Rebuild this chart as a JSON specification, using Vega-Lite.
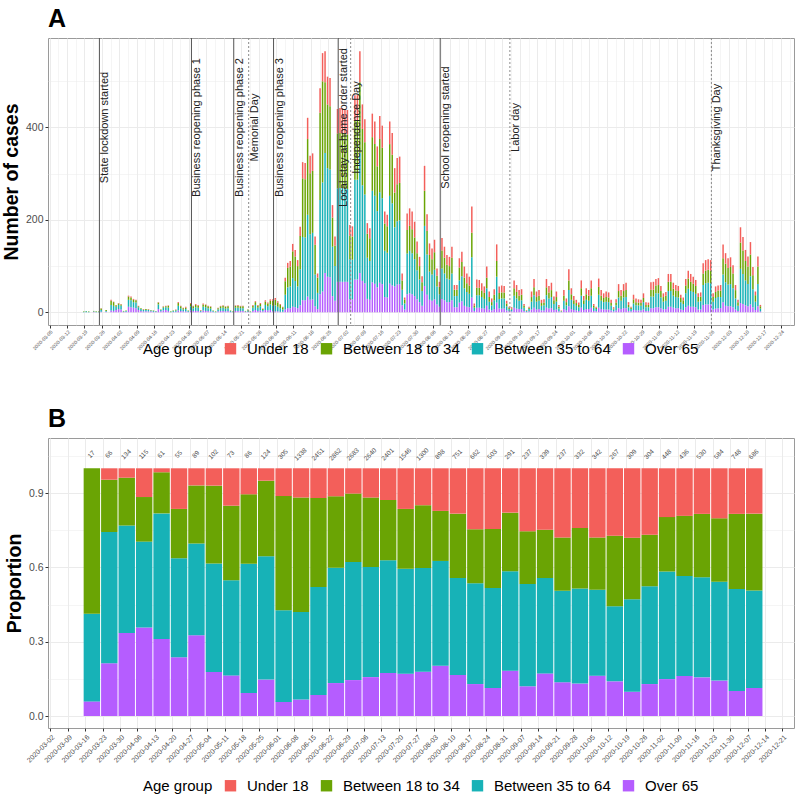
{
"$schema":"https://vega.github.io/schema/vega-lite/v6.json",
"background":"white",
"padding":{"left":0,"top":6,"right":5,"bottom":2},
"config":{
 "font":"Liberation Sans",
 "view":{"stroke":"#9a9a9a","strokeWidth":1},
 "axis":{"domain":false,"tickColor":"#333333","tickSize":3,"labelPadding":2,"labelColor":"#4d4d4d","gridColor":"#ebebeb","titleColor":"black","titleFontWeight":"bold","titleFontSize":19.5,"labelFont":"Liberation Sans","titleFont":"Liberation Sans","labelBound":false,"labelFlush":false},
 "legend":{"orient":"none","direction":"horizontal","titleOrient":"left","titleFontSize":15,"titleFontWeight":"normal","titleColor":"black","labelFontSize":15,"labelColor":"black","symbolType":"square","symbolSize":130,"symbolStrokeWidth":0,"labelOffset":9,"columnPadding":10,"titlePadding":10},
 "title":{"anchor":"start","frame":"group","fontSize":25,"fontWeight":"bold","color":"black","offset":6}
},
"datasets":{
"events":[
{"d":"2020/03/25","t":"State lockdown started","k":"p"},
{"d":"2020/05/01","t":"Business reopening phase 1","k":"p"},
{"d":"2020/05/18","t":"Business reopening phase 2","k":"p"},
{"d":"2020/05/24","t":"Memorial Day","k":"h"},
{"d":"2020/06/03","t":"Business reopening phase 3","k":"p"},
{"d":"2020/06/29","t":"Local stay-at-home order started","k":"p"},
{"d":"2020/07/04","t":"Independence Day","k":"h"},
{"d":"2020/08/09","t":"School reopening started","k":"p"},
{"d":"2020/09/06","t":"Labor day","k":"h"},
{"d":"2020/11/26","t":"Thanksgiving Day","k":"h"}
],
"weekly":[
{"w":"2020/03/15","cnt":17,"g1":0.059,"g2":0.354,"g3":0.587,"g4":0},
{"w":"2020/03/22","cnt":66,"g1":0.213,"g2":0.530,"g3":0.211,"g4":0.046},
{"w":"2020/03/29","cnt":134,"g1":0.335,"g2":0.434,"g3":0.193,"g4":0.038},
{"w":"2020/04/05","cnt":115,"g1":0.357,"g2":0.347,"g3":0.180,"g4":0.116},
{"w":"2020/04/12","cnt":61,"g1":0.311,"g2":0.507,"g3":0.166,"g4":0.016},
{"w":"2020/04/19","cnt":55,"g1":0.237,"g2":0.400,"g3":0.199,"g4":0.164},
{"w":"2020/04/26","cnt":89,"g1":0.326,"g2":0.370,"g3":0.235,"g4":0.069},
{"w":"2020/05/03","cnt":102,"g1":0.178,"g2":0.438,"g3":0.314,"g4":0.070},
{"w":"2020/05/10","cnt":73,"g1":0.164,"g2":0.384,"g3":0.301,"g4":0.151},
{"w":"2020/05/17","cnt":86,"g1":0.093,"g2":0.522,"g3":0.280,"g4":0.105},
{"w":"2020/05/24","cnt":124,"g1":0.147,"g2":0.498,"g3":0.305,"g4":0.050},
{"w":"2020/05/31","cnt":305,"g1":0.057,"g2":0.370,"g3":0.461,"g4":0.112},
{"w":"2020/06/07","cnt":1338,"g1":0.067,"g2":0.353,"g3":0.462,"g4":0.118},
{"w":"2020/06/14","cnt":2451,"g1":0.085,"g2":0.436,"g3":0.359,"g4":0.120},
{"w":"2020/06/21","cnt":2862,"g1":0.133,"g2":0.466,"g3":0.288,"g4":0.113},
{"w":"2020/06/28","cnt":2683,"g1":0.145,"g2":0.477,"g3":0.276,"g4":0.102},
{"w":"2020/07/05","cnt":2640,"g1":0.157,"g2":0.445,"g3":0.280,"g4":0.118},
{"w":"2020/07/12","cnt":2401,"g1":0.174,"g2":0.455,"g3":0.243,"g4":0.128},
{"w":"2020/07/19","cnt":1546,"g1":0.171,"g2":0.423,"g3":0.242,"g4":0.164},
{"w":"2020/07/26","cnt":1300,"g1":0.179,"g2":0.419,"g3":0.253,"g4":0.149},
{"w":"2020/08/02","cnt":898,"g1":0.203,"g2":0.423,"g3":0.202,"g4":0.172},
{"w":"2020/08/09","cnt":751,"g1":0.166,"g2":0.391,"g3":0.260,"g4":0.183},
{"w":"2020/08/16","cnt":662,"g1":0.129,"g2":0.407,"g3":0.218,"g4":0.246},
{"w":"2020/08/23","cnt":503,"g1":0.113,"g2":0.404,"g3":0.238,"g4":0.245},
{"w":"2020/08/30","cnt":291,"g1":0.183,"g2":0.401,"g3":0.237,"g4":0.179},
{"w":"2020/09/06","cnt":237,"g1":0.120,"g2":0.413,"g3":0.213,"g4":0.254},
{"w":"2020/09/13","cnt":339,"g1":0.172,"g2":0.385,"g3":0.195,"g4":0.248},
{"w":"2020/09/20","cnt":237,"g1":0.136,"g2":0.370,"g3":0.215,"g4":0.279},
{"w":"2020/09/27","cnt":332,"g1":0.131,"g2":0.384,"g3":0.244,"g4":0.241},
{"w":"2020/10/04","cnt":342,"g1":0.163,"g2":0.347,"g3":0.211,"g4":0.279},
{"w":"2020/10/11","cnt":267,"g1":0.140,"g2":0.303,"g3":0.285,"g4":0.272},
{"w":"2020/10/18","cnt":309,"g1":0.098,"g2":0.373,"g3":0.249,"g4":0.280},
{"w":"2020/10/25","cnt":304,"g1":0.129,"g2":0.395,"g3":0.208,"g4":0.268},
{"w":"2020/11/01","cnt":448,"g1":0.149,"g2":0.434,"g3":0.220,"g4":0.197},
{"w":"2020/11/08","cnt":436,"g1":0.162,"g2":0.403,"g3":0.243,"g4":0.192},
{"w":"2020/11/15","cnt":530,"g1":0.156,"g2":0.404,"g3":0.256,"g4":0.184},
{"w":"2020/11/22","cnt":584,"g1":0.143,"g2":0.399,"g3":0.256,"g4":0.202},
{"w":"2020/11/29","cnt":748,"g1":0.101,"g2":0.412,"g3":0.303,"g4":0.184},
{"w":"2020/12/06","cnt":686,"g1":0.113,"g2":0.394,"g3":0.310,"g4":0.183}
],
"daily":[
{"d":"2020/03/18","g1":0,"g2":1,"g3":1,"g4":0},
{"d":"2020/03/19","g1":0,"g2":2,"g3":1,"g4":0},
{"d":"2020/03/20","g1":0,"g2":1,"g3":1,"g4":0},
{"d":"2020/03/22","g1":1,"g2":1,"g3":1,"g4":0},
{"d":"2020/03/23","g1":0,"g2":1,"g3":1,"g4":0},
{"d":"2020/03/24","g1":0,"g2":1,"g3":1,"g4":0},
{"d":"2020/03/25","g1":1,"g2":4,"g3":3,"g4":1},
{"d":"2020/03/27","g1":1,"g2":2,"g3":2,"g4":0},
{"d":"2020/03/29","g1":4,"g2":12,"g3":9,"g4":2},
{"d":"2020/03/30","g1":3,"g2":11,"g3":8,"g4":1},
{"d":"2020/03/31","g1":5,"g2":7,"g3":3,"g4":1},
{"d":"2020/04/01","g1":7,"g2":9,"g3":3,"g4":1},
{"d":"2020/04/02","g1":6,"g2":8,"g3":3,"g4":1},
{"d":"2020/04/03","g1":1,"g2":1,"g3":1,"g4":0},
{"d":"2020/04/04","g1":1,"g2":2,"g3":1,"g4":0},
{"d":"2020/04/05","g1":12,"g2":15,"g3":7,"g4":2},
{"d":"2020/04/06","g1":11,"g2":15,"g3":6,"g4":2},
{"d":"2020/04/07","g1":10,"g2":12,"g3":5,"g4":2},
{"d":"2020/04/08","g1":9,"g2":12,"g3":5,"g4":1},
{"d":"2020/04/09","g1":5,"g2":6,"g3":2,"g4":1},
{"d":"2020/04/10","g1":3,"g2":4,"g3":2,"g4":0},
{"d":"2020/04/11","g1":2,"g2":3,"g3":1,"g4":1},
{"d":"2020/04/12","g1":2,"g2":3,"g3":2,"g4":0},
{"d":"2020/04/13","g1":2,"g2":3,"g3":1,"g4":1},
{"d":"2020/04/14","g1":2,"g2":2,"g3":1,"g4":0},
{"d":"2020/04/15","g1":1,"g2":2,"g3":1,"g4":0},
{"d":"2020/04/16","g1":1,"g2":1,"g3":1,"g4":0},
{"d":"2020/04/17","g1":7,"g2":10,"g3":4,"g4":1},
{"d":"2020/04/18","g1":2,"g2":3,"g3":1,"g4":0},
{"d":"2020/04/19","g1":4,"g2":6,"g3":2,"g4":1},
{"d":"2020/04/20","g1":5,"g2":6,"g3":2,"g4":1},
{"d":"2020/04/21","g1":3,"g2":7,"g3":4,"g4":1},
{"d":"2020/04/22","g1":0,"g2":1,"g3":1,"g4":0},
{"d":"2020/04/23","g1":1,"g2":2,"g3":1,"g4":0},
{"d":"2020/04/24","g1":1,"g2":3,"g3":1,"g4":1},
{"d":"2020/04/25","g1":4,"g2":10,"g3":6,"g4":2},
{"d":"2020/04/26","g1":3,"g2":6,"g3":4,"g4":1},
{"d":"2020/04/27","g1":2,"g2":4,"g3":3,"g4":1},
{"d":"2020/04/28","g1":2,"g2":5,"g3":3,"g4":2},
{"d":"2020/04/29","g1":1,"g2":2,"g3":1,"g4":0},
{"d":"2020/04/30","g1":4,"g2":9,"g3":5,"g4":2},
{"d":"2020/05/01","g1":3,"g2":6,"g3":4,"g4":1},
{"d":"2020/05/02","g1":3,"g2":8,"g3":5,"g4":2},
{"d":"2020/05/03","g1":3,"g2":7,"g3":4,"g4":2},
{"d":"2020/05/04","g1":1,"g2":2,"g3":1,"g4":1},
{"d":"2020/05/05","g1":4,"g2":8,"g3":5,"g4":2},
{"d":"2020/05/06","g1":3,"g2":8,"g3":5,"g4":1},
{"d":"2020/05/07","g1":3,"g2":6,"g3":4,"g4":1},
{"d":"2020/05/08","g1":2,"g2":6,"g3":4,"g4":1},
{"d":"2020/05/09","g1":1,"g2":2,"g3":1,"g4":0},
{"d":"2020/05/10","g1":0,"g2":1,"g3":1,"g4":0},
{"d":"2020/05/11","g1":2,"g2":4,"g3":3,"g4":1},
{"d":"2020/05/12","g1":3,"g2":6,"g3":4,"g4":1},
{"d":"2020/05/13","g1":3,"g2":7,"g3":4,"g4":1},
{"d":"2020/05/14","g1":2,"g2":6,"g3":4,"g4":1},
{"d":"2020/05/15","g1":3,"g2":6,"g3":4,"g4":1},
{"d":"2020/05/16","g1":1,"g2":2,"g3":1,"g4":0},
{"d":"2020/05/17","g1":0,"g2":1,"g3":1,"g4":0},
{"d":"2020/05/18","g1":3,"g2":7,"g3":4,"g4":1},
{"d":"2020/05/19","g1":3,"g2":7,"g3":4,"g4":2},
{"d":"2020/05/20","g1":3,"g2":6,"g3":4,"g4":1},
{"d":"2020/05/21","g1":3,"g2":6,"g3":4,"g4":1},
{"d":"2020/05/22","g1":1,"g2":1,"g3":1,"g4":0},
{"d":"2020/05/23","g1":1,"g2":3,"g3":2,"g4":0},
{"d":"2020/05/24","g1":0,"g2":1,"g3":1,"g4":0},
{"d":"2020/05/25","g1":3,"g2":7,"g3":4,"g4":2},
{"d":"2020/05/26","g1":5,"g2":11,"g3":6,"g4":2},
{"d":"2020/05/27","g1":3,"g2":7,"g3":4,"g4":2},
{"d":"2020/05/28","g1":4,"g2":9,"g3":5,"g4":2},
{"d":"2020/05/29","g1":2,"g2":3,"g3":2,"g4":1},
{"d":"2020/05/30","g1":5,"g2":11,"g3":7,"g4":3},
{"d":"2020/05/31","g1":4,"g2":9,"g3":6,"g4":2},
{"d":"2020/06/01","g1":5,"g2":12,"g3":8,"g4":3},
{"d":"2020/06/02","g1":2,"g2":12,"g3":11,"g4":3},
{"d":"2020/06/03","g1":2,"g2":13,"g3":12,"g4":4},
{"d":"2020/06/04","g1":2,"g2":10,"g3":9,"g4":3},
{"d":"2020/06/05","g1":1,"g2":8,"g3":7,"g4":2},
{"d":"2020/06/06","g1":1,"g2":5,"g3":5,"g4":1},
{"d":"2020/06/07","g1":6,"g2":32,"g3":29,"g4":8},
{"d":"2020/06/08","g1":9,"g2":45,"g3":42,"g4":11},
{"d":"2020/06/09","g1":9,"g2":47,"g3":43,"g4":12},
{"d":"2020/06/10","g1":12,"g2":62,"g3":58,"g4":16},
{"d":"2020/06/11","g1":11,"g2":57,"g3":53,"g4":14},
{"d":"2020/06/12","g1":9,"g2":47,"g3":44,"g4":13},
{"d":"2020/06/13","g1":15,"g2":78,"g3":72,"g4":20},
{"d":"2020/06/14","g1":26,"g2":137,"g3":127,"g4":35},
{"d":"2020/06/15","g1":26,"g2":136,"g3":126,"g4":35},
{"d":"2020/06/16","g1":34,"g2":177,"g3":164,"g4":46},
{"d":"2020/06/17","g1":27,"g2":142,"g3":132,"g4":38},
{"d":"2020/06/18","g1":28,"g2":144,"g3":134,"g4":38},
{"d":"2020/06/19","g1":13,"g2":69,"g3":64,"g4":18},
{"d":"2020/06/20","g1":7,"g2":35,"g3":33,"g4":9},
{"d":"2020/06/21","g1":39,"g2":204,"g3":189,"g4":53},
{"d":"2020/06/22","g1":45,"g2":236,"g3":219,"g4":61},
{"d":"2020/06/23","g1":85,"g2":260,"g3":153,"g4":67},
{"d":"2020/06/24","g1":77,"g2":235,"g3":138,"g4":60},
{"d":"2020/06/25","g1":76,"g2":233,"g3":137,"g4":61},
{"d":"2020/06/26","g1":35,"g2":107,"g3":63,"g4":27},
{"d":"2020/06/27","g1":25,"g2":75,"g3":44,"g4":20},
{"d":"2020/06/28","g1":66,"g2":202,"g3":119,"g4":53},
{"d":"2020/06/29","g1":66,"g2":203,"g3":119,"g4":54},
{"d":"2020/06/30","g1":66,"g2":203,"g3":119,"g4":54},
{"d":"2020/07/01","g1":66,"g2":202,"g3":119,"g4":53},
{"d":"2020/07/02","g1":66,"g2":201,"g3":118,"g4":53},
{"d":"2020/07/03","g1":28,"g2":87,"g3":51,"g4":23},
{"d":"2020/07/04","g1":28,"g2":86,"g3":50,"g4":22},
{"d":"2020/07/05","g1":71,"g2":216,"g3":127,"g4":56},
{"d":"2020/07/06","g1":71,"g2":216,"g3":127,"g4":56},
{"d":"2020/07/07","g1":85,"g2":260,"g3":153,"g4":67},
{"d":"2020/07/08","g1":68,"g2":207,"g3":122,"g4":53},
{"d":"2020/07/09","g1":63,"g2":192,"g3":113,"g4":50},
{"d":"2020/07/10","g1":29,"g2":89,"g3":52,"g4":23},
{"d":"2020/07/11","g1":27,"g2":84,"g3":49,"g4":22},
{"d":"2020/07/12","g1":65,"g2":198,"g3":116,"g4":51},
{"d":"2020/07/13","g1":62,"g2":190,"g3":112,"g4":49},
{"d":"2020/07/14","g1":54,"g2":165,"g3":97,"g4":43},
{"d":"2020/07/15","g1":64,"g2":196,"g3":115,"g4":50},
{"d":"2020/07/16","g1":61,"g2":186,"g3":109,"g4":48},
{"d":"2020/07/17","g1":33,"g2":100,"g3":59,"g4":26},
{"d":"2020/07/18","g1":32,"g2":97,"g3":57,"g4":25},
{"d":"2020/07/19","g1":62,"g2":190,"g3":112,"g4":49},
{"d":"2020/07/20","g1":58,"g2":178,"g3":105,"g4":47},
{"d":"2020/07/21","g1":56,"g2":128,"g3":75,"g4":53},
{"d":"2020/07/22","g1":60,"g2":137,"g3":80,"g4":57},
{"d":"2020/07/23","g1":61,"g2":138,"g3":81,"g4":57},
{"d":"2020/07/24","g1":15,"g2":34,"g3":20,"g4":15},
{"d":"2020/07/25","g1":6,"g2":13,"g3":8,"g4":5},
{"d":"2020/07/26","g1":39,"g2":88,"g3":51,"g4":36},
{"d":"2020/07/27","g1":41,"g2":92,"g3":54,"g4":38},
{"d":"2020/07/28","g1":39,"g2":89,"g3":52,"g4":38},
{"d":"2020/07/29","g1":35,"g2":80,"g3":47,"g4":34},
{"d":"2020/07/30","g1":28,"g2":63,"g3":37,"g4":25},
{"d":"2020/07/31","g1":22,"g2":49,"g3":29,"g4":20},
{"d":"2020/08/01","g1":14,"g2":32,"g3":19,"g4":13},
{"d":"2020/08/02","g1":57,"g2":130,"g3":76,"g4":54},
{"d":"2020/08/03","g1":38,"g2":87,"g3":51,"g4":36},
{"d":"2020/08/04","g1":27,"g2":61,"g3":36,"g4":25},
{"d":"2020/08/05","g1":25,"g2":57,"g3":33,"g4":23},
{"d":"2020/08/06","g1":28,"g2":64,"g3":38,"g4":27},
{"d":"2020/08/07","g1":17,"g2":39,"g3":23,"g4":16},
{"d":"2020/08/08","g1":12,"g2":27,"g3":16,"g4":11},
{"d":"2020/08/09","g1":29,"g2":66,"g3":39,"g4":27},
{"d":"2020/08/10","g1":26,"g2":58,"g3":34,"g4":24},
{"d":"2020/08/11","g1":22,"g2":51,"g3":30,"g4":21},
{"d":"2020/08/12","g1":22,"g2":49,"g3":29,"g4":20},
{"d":"2020/08/13","g1":26,"g2":58,"g3":34,"g4":24},
{"d":"2020/08/14","g1":11,"g2":24,"g3":14,"g4":10},
{"d":"2020/08/15","g1":11,"g2":24,"g3":14,"g4":10},
{"d":"2020/08/16","g1":21,"g2":48,"g3":28,"g4":20},
{"d":"2020/08/17","g1":24,"g2":54,"g3":31,"g4":22},
{"d":"2020/08/18","g1":14,"g2":38,"g3":23,"g4":24},
{"d":"2020/08/19","g1":12,"g2":32,"g3":19,"g4":21},
{"d":"2020/08/20","g1":11,"g2":29,"g3":18,"g4":19},
{"d":"2020/08/21","g1":32,"g2":87,"g3":53,"g4":57},
{"d":"2020/08/22","g1":3,"g2":7,"g3":4,"g4":5},
{"d":"2020/08/23","g1":10,"g2":27,"g3":16,"g4":18},
{"d":"2020/08/24","g1":10,"g2":27,"g3":16,"g4":17},
{"d":"2020/08/25","g1":9,"g2":24,"g3":14,"g4":16},
{"d":"2020/08/26","g1":8,"g2":21,"g3":13,"g4":14},
{"d":"2020/08/27","g1":14,"g2":38,"g3":23,"g4":24},
{"d":"2020/08/28","g1":6,"g2":17,"g3":10,"g4":12},
{"d":"2020/08/29","g1":4,"g2":11,"g3":7,"g4":8},
{"d":"2020/08/30","g1":7,"g2":19,"g3":12,"g4":12},
{"d":"2020/08/31","g1":21,"g2":56,"g3":34,"g4":36},
{"d":"2020/09/01","g1":8,"g2":21,"g3":13,"g4":14},
{"d":"2020/09/02","g1":8,"g2":22,"g3":13,"g4":15},
{"d":"2020/09/03","g1":8,"g2":22,"g3":13,"g4":14},
{"d":"2020/09/04","g1":4,"g2":9,"g3":6,"g4":6},
{"d":"2020/09/05","g1":2,"g2":5,"g3":3,"g4":2},
{"d":"2020/09/06","g1":2,"g2":4,"g3":2,"g4":3},
{"d":"2020/09/07","g1":10,"g2":26,"g3":16,"g4":17},
{"d":"2020/09/08","g1":8,"g2":22,"g3":14,"g4":15},
{"d":"2020/09/09","g1":7,"g2":18,"g3":11,"g4":12},
{"d":"2020/09/10","g1":7,"g2":19,"g3":12,"g4":12},
{"d":"2020/09/11","g1":3,"g2":7,"g3":4,"g4":4},
{"d":"2020/09/12","g1":1,"g2":2,"g3":1,"g4":1},
{"d":"2020/09/13","g1":2,"g2":5,"g3":3,"g4":2},
{"d":"2020/09/14","g1":6,"g2":17,"g3":10,"g4":12},
{"d":"2020/09/15","g1":10,"g2":27,"g3":17,"g4":18},
{"d":"2020/09/16","g1":6,"g2":17,"g3":10,"g4":12},
{"d":"2020/09/17","g1":7,"g2":18,"g3":11,"g4":12},
{"d":"2020/09/18","g1":4,"g2":10,"g3":6,"g4":7},
{"d":"2020/09/19","g1":4,"g2":11,"g3":6,"g4":7},
{"d":"2020/09/20","g1":10,"g2":27,"g3":17,"g4":18},
{"d":"2020/09/21","g1":8,"g2":22,"g3":13,"g4":14},
{"d":"2020/09/22","g1":9,"g2":24,"g3":15,"g4":16},
{"d":"2020/09/23","g1":5,"g2":13,"g3":8,"g4":8},
{"d":"2020/09/24","g1":6,"g2":17,"g3":10,"g4":12},
{"d":"2020/09/25","g1":2,"g2":6,"g3":4,"g4":4},
{"d":"2020/09/26","g1":1,"g2":1,"g3":1,"g4":1},
{"d":"2020/09/27","g1":7,"g2":18,"g3":11,"g4":12},
{"d":"2020/09/28","g1":4,"g2":11,"g3":7,"g4":8},
{"d":"2020/09/29","g1":13,"g2":35,"g3":21,"g4":24},
{"d":"2020/09/30","g1":7,"g2":20,"g3":12,"g4":13},
{"d":"2020/10/01","g1":5,"g2":13,"g3":8,"g4":9},
{"d":"2020/10/02","g1":4,"g2":10,"g3":6,"g4":7},
{"d":"2020/10/03","g1":3,"g2":8,"g3":5,"g4":5},
{"d":"2020/10/04","g1":10,"g2":26,"g3":16,"g4":17},
{"d":"2020/10/05","g1":5,"g2":13,"g3":8,"g4":9},
{"d":"2020/10/06","g1":7,"g2":20,"g3":12,"g4":13},
{"d":"2020/10/07","g1":7,"g2":18,"g3":11,"g4":12},
{"d":"2020/10/08","g1":10,"g2":26,"g3":16,"g4":17},
{"d":"2020/10/09","g1":3,"g2":7,"g3":4,"g4":4},
{"d":"2020/10/10","g1":2,"g2":5,"g3":3,"g4":2},
{"d":"2020/10/11","g1":10,"g2":28,"g3":17,"g4":18},
{"d":"2020/10/12","g1":7,"g2":18,"g3":11,"g4":12},
{"d":"2020/10/13","g1":6,"g2":16,"g3":9,"g4":10},
{"d":"2020/10/14","g1":6,"g2":17,"g3":10,"g4":12},
{"d":"2020/10/15","g1":6,"g2":16,"g3":10,"g4":11},
{"d":"2020/10/16","g1":4,"g2":10,"g3":6,"g4":7},
{"d":"2020/10/17","g1":2,"g2":4,"g3":2,"g4":3},
{"d":"2020/10/18","g1":4,"g2":11,"g3":6,"g4":7},
{"d":"2020/10/19","g1":9,"g2":23,"g3":14,"g4":15},
{"d":"2020/10/20","g1":7,"g2":18,"g3":11,"g4":12},
{"d":"2020/10/21","g1":9,"g2":23,"g3":14,"g4":15},
{"d":"2020/10/22","g1":9,"g2":24,"g3":15,"g4":16},
{"d":"2020/10/23","g1":3,"g2":8,"g3":5,"g4":6},
{"d":"2020/10/24","g1":2,"g2":5,"g3":3,"g4":2},
{"d":"2020/10/25","g1":5,"g2":14,"g3":9,"g4":10},
{"d":"2020/10/26","g1":4,"g2":11,"g3":7,"g4":8},
{"d":"2020/10/27","g1":4,"g2":11,"g3":6,"g4":7},
{"d":"2020/10/28","g1":4,"g2":10,"g3":6,"g4":7},
{"d":"2020/10/29","g1":6,"g2":16,"g3":9,"g4":10},
{"d":"2020/10/30","g1":3,"g2":8,"g3":5,"g4":6},
{"d":"2020/10/31","g1":3,"g2":8,"g3":5,"g4":5},
{"d":"2020/11/01","g1":9,"g2":25,"g3":15,"g4":16},
{"d":"2020/11/02","g1":9,"g2":25,"g3":15,"g4":17},
{"d":"2020/11/03","g1":11,"g2":30,"g3":17,"g4":14},
{"d":"2020/11/04","g1":11,"g2":30,"g3":18,"g4":15},
{"d":"2020/11/05","g1":9,"g2":23,"g3":14,"g4":11},
{"d":"2020/11/06","g1":6,"g2":17,"g3":10,"g4":8},
{"d":"2020/11/07","g1":7,"g2":18,"g3":11,"g4":8},
{"d":"2020/11/08","g1":12,"g2":34,"g3":20,"g4":17},
{"d":"2020/11/09","g1":12,"g2":34,"g3":20,"g4":17},
{"d":"2020/11/10","g1":10,"g2":26,"g3":15,"g4":13},
{"d":"2020/11/11","g1":9,"g2":24,"g3":14,"g4":12},
{"d":"2020/11/12","g1":9,"g2":23,"g3":14,"g4":11},
{"d":"2020/11/13","g1":6,"g2":16,"g3":9,"g4":7},
{"d":"2020/11/14","g1":5,"g2":13,"g3":8,"g4":6},
{"d":"2020/11/15","g1":11,"g2":30,"g3":17,"g4":14},
{"d":"2020/11/16","g1":14,"g2":37,"g3":22,"g4":17},
{"d":"2020/11/17","g1":12,"g2":34,"g3":20,"g4":17},
{"d":"2020/11/18","g1":12,"g2":32,"g3":18,"g4":15},
{"d":"2020/11/19","g1":11,"g2":29,"g3":17,"g4":13},
{"d":"2020/11/20","g1":6,"g2":17,"g3":10,"g4":8},
{"d":"2020/11/21","g1":6,"g2":18,"g3":10,"g4":9},
{"d":"2020/11/22","g1":16,"g2":43,"g3":25,"g4":22},
{"d":"2020/11/23","g1":17,"g2":46,"g3":27,"g4":23},
{"d":"2020/11/24","g1":17,"g2":47,"g3":28,"g4":23},
{"d":"2020/11/25","g1":17,"g2":46,"g3":27,"g4":23},
{"d":"2020/11/26","g1":6,"g2":17,"g3":10,"g4":8},
{"d":"2020/11/27","g1":8,"g2":23,"g3":13,"g4":12},
{"d":"2020/11/28","g1":9,"g2":24,"g3":14,"g4":11},
{"d":"2020/11/29","g1":9,"g2":24,"g3":14,"g4":12},
{"d":"2020/11/30","g1":22,"g2":60,"g3":35,"g4":30},
{"d":"2020/12/01","g1":14,"g2":51,"g3":40,"g4":23},
{"d":"2020/12/02","g1":13,"g2":47,"g3":36,"g4":21},
{"d":"2020/12/03","g1":13,"g2":48,"g3":37,"g4":21},
{"d":"2020/12/04","g1":11,"g2":41,"g3":32,"g4":18},
{"d":"2020/12/05","g1":6,"g2":24,"g3":18,"g4":11},
{"d":"2020/12/06","g1":3,"g2":11,"g3":8,"g4":5},
{"d":"2020/12/07","g1":20,"g2":74,"g3":57,"g4":33},
{"d":"2020/12/08","g1":18,"g2":65,"g3":51,"g4":29},
{"d":"2020/12/09","g1":15,"g2":54,"g3":42,"g4":24},
{"d":"2020/12/10","g1":13,"g2":48,"g3":38,"g4":22},
{"d":"2020/12/11","g1":17,"g2":61,"g3":47,"g4":27},
{"d":"2020/12/12","g1":11,"g2":39,"g3":30,"g4":18},
{"d":"2020/12/13","g1":5,"g2":18,"g3":14,"g4":8},
{"d":"2020/12/14","g1":13,"g2":48,"g3":38,"g4":22},
{"d":"2020/12/15","g1":2,"g2":6,"g3":5,"g4":3}
]
},
"resolve":{"scale":{"color":"independent"},"legend":{"color":"independent"}},
"spacing":48,
"vconcat":[
{
 "width":746,"height":287,
 "title":{"text":"A"},
 "layer":[
  {
   "data":{"name":"daily"},
   "transform":[{"fold":["g1","g2","g3","g4"],"as":["grp","v"]}],
   "mark":{"type":"bar","timeUnitBandSize":0.85,"timeUnitBandPosition":0.075},
   "encoding":{
    "x":{"field":"d","type":"temporal","timeUnit":"yearmonthdate","title":null,
     "scale":{"domain":[{"year":2020,"month":3,"date":4,"hours":8},{"year":2020,"month":12,"date":29,"hours":5}]},
     "axis":{"tickCount":500,"values":[
{"year":2020,"month":3,"date":5},{"year":2020,"month":3,"date":12},{"year":2020,"month":3,"date":19},{"year":2020,"month":3,"date":26},
{"year":2020,"month":4,"date":2},{"year":2020,"month":4,"date":9},{"year":2020,"month":4,"date":16},{"year":2020,"month":4,"date":23},{"year":2020,"month":4,"date":30},
{"year":2020,"month":5,"date":7},{"year":2020,"month":5,"date":14},{"year":2020,"month":5,"date":21},{"year":2020,"month":5,"date":28},
{"year":2020,"month":6,"date":4},{"year":2020,"month":6,"date":11},{"year":2020,"month":6,"date":18},{"year":2020,"month":6,"date":25},
{"year":2020,"month":7,"date":2},{"year":2020,"month":7,"date":9},{"year":2020,"month":7,"date":16},{"year":2020,"month":7,"date":23},{"year":2020,"month":7,"date":30},
{"year":2020,"month":8,"date":6},{"year":2020,"month":8,"date":13},{"year":2020,"month":8,"date":20},{"year":2020,"month":8,"date":27},
{"year":2020,"month":9,"date":3},{"year":2020,"month":9,"date":10},{"year":2020,"month":9,"date":17},{"year":2020,"month":9,"date":24},
{"year":2020,"month":10,"date":1},{"year":2020,"month":10,"date":8},{"year":2020,"month":10,"date":15},{"year":2020,"month":10,"date":22},{"year":2020,"month":10,"date":29},
{"year":2020,"month":11,"date":5},{"year":2020,"month":11,"date":12},{"year":2020,"month":11,"date":19},{"year":2020,"month":11,"date":26},
{"year":2020,"month":12,"date":3},{"year":2020,"month":12,"date":10},{"year":2020,"month":12,"date":17},{"year":2020,"month":12,"date":24},
{"year":2020,"month":3,"date":8,"hours":12},{"year":2020,"month":3,"date":15,"hours":12},{"year":2020,"month":3,"date":22,"hours":12},{"year":2020,"month":3,"date":29,"hours":12},
{"year":2020,"month":4,"date":5,"hours":12},{"year":2020,"month":4,"date":12,"hours":12},{"year":2020,"month":4,"date":19,"hours":12},{"year":2020,"month":4,"date":26,"hours":12},
{"year":2020,"month":5,"date":3,"hours":12},{"year":2020,"month":5,"date":10,"hours":12},{"year":2020,"month":5,"date":17,"hours":12},{"year":2020,"month":5,"date":24,"hours":12},{"year":2020,"month":5,"date":31,"hours":12},
{"year":2020,"month":6,"date":7,"hours":12},{"year":2020,"month":6,"date":14,"hours":12},{"year":2020,"month":6,"date":21,"hours":12},{"year":2020,"month":6,"date":28,"hours":12},
{"year":2020,"month":7,"date":5,"hours":12},{"year":2020,"month":7,"date":12,"hours":12},{"year":2020,"month":7,"date":19,"hours":12},{"year":2020,"month":7,"date":26,"hours":12},
{"year":2020,"month":8,"date":2,"hours":12},{"year":2020,"month":8,"date":9,"hours":12},{"year":2020,"month":8,"date":16,"hours":12},{"year":2020,"month":8,"date":23,"hours":12},{"year":2020,"month":8,"date":30,"hours":12},
{"year":2020,"month":9,"date":6,"hours":12},{"year":2020,"month":9,"date":13,"hours":12},{"year":2020,"month":9,"date":20,"hours":12},{"year":2020,"month":9,"date":27,"hours":12},
{"year":2020,"month":10,"date":4,"hours":12},{"year":2020,"month":10,"date":11,"hours":12},{"year":2020,"month":10,"date":18,"hours":12},{"year":2020,"month":10,"date":25,"hours":12},
{"year":2020,"month":11,"date":1,"hours":12},{"year":2020,"month":11,"date":8,"hours":12},{"year":2020,"month":11,"date":15,"hours":12},{"year":2020,"month":11,"date":22,"hours":12},{"year":2020,"month":11,"date":29,"hours":12},
{"year":2020,"month":12,"date":6,"hours":12},{"year":2020,"month":12,"date":13,"hours":12},{"year":2020,"month":12,"date":20,"hours":12},{"year":2020,"month":12,"date":27,"hours":12}
],
      "labelExpr":"hours(datum.value)==0 ? timeFormat(datum.value,'%Y-%m-%d') : ''",
      "labelAngle":-45,"labelAlign":"right","labelBaseline":"top","labelFontSize":5,"labelPadding":1,"labelOverlap":false,"labelBound":false,"labelFlush":false,
      "tickOpacity":{"condition":{"test":"hours(datum.value)!=0","value":0},"value":1},
      "gridWidth":{"condition":{"test":"hours(datum.value)!=0","value":0.5},"value":1}}},
    "y":{"field":"v","type":"quantitative","stack":"zero","title":"Number of cases",
     "scale":{"domain":[-27.5,593.7],"nice":false,"zero":false},
     "axis":{"values":[0,100,200,300,400,500],"tickCount":50,"labelExpr":"datum.value%200==0 ? datum.label : ''","labelFontSize":10.5,"titlePadding":4,
      "tickOpacity":{"condition":{"test":"datum.value%200!=0","value":0},"value":1},
      "gridWidth":{"condition":{"test":"datum.value%200!=0","value":0.5},"value":1}}},
    "color":{"field":"grp","type":"nominal",
     "scale":{"domain":["g4","g3","g2","g1"],"range":["#F35F5A","#6AA404","#17B2B7","#B55DFF"]},
     "legend":{"title":"Age group","legendX":95,"legendY":303,
      "labelExpr":"datum.label=='g4' ? 'Under 18' : datum.label=='g3' ? 'Between 18 to 34' : datum.label=='g2' ? 'Between 35 to 64' : 'Over 65'"}},
    "order":{"field":"grp","sort":"ascending"}
   }
  },
  {
   "data":{"name":"events"},
   "mark":{"type":"rule","strokeWidth":1},
   "encoding":{
    "x":{"field":"d","type":"temporal","title":null},
    "color":{"condition":{"test":"datum.k=='h'","value":"#8a8a8a"},"value":"#555555"},
    "strokeDash":{"field":"k","type":"nominal","scale":{"domain":["p","h"],"range":[[1,0],[2,2]]},"legend":null}
   }
  },
  {
   "data":{"name":"events"},
   "mark":{"type":"text","angle":270,"align":"center","baseline":"top","fontSize":11,"color":"#222222"},
   "encoding":{
    "x":{"field":"d","type":"temporal","title":null},
    "y":{"datum":400},
    "text":{"field":"t"}
   }
  }
 ]
},
{
 "width":746,"height":290,
 "title":{"text":"B"},
 "layer":[
  {
   "data":{"name":"weekly"},
   "transform":[{"fold":["g1","g2","g3","g4"],"as":["grp","v"]}],
   "mark":{"type":"bar"},
   "encoding":{
    "x":{"field":"w","type":"temporal","timeUnit":"yearweek","title":null,
     "scale":{"domain":[{"year":2020,"month":3,"date":1,"hours":2},{"year":2020,"month":12,"date":25,"hours":16}]},
     "axis":{"tickCount":500,"values":[
{"year":2020,"month":3,"date":2},{"year":2020,"month":3,"date":9},{"year":2020,"month":3,"date":16},{"year":2020,"month":3,"date":23},{"year":2020,"month":3,"date":30},
{"year":2020,"month":4,"date":6},{"year":2020,"month":4,"date":13},{"year":2020,"month":4,"date":20},{"year":2020,"month":4,"date":27},
{"year":2020,"month":5,"date":4},{"year":2020,"month":5,"date":11},{"year":2020,"month":5,"date":18},{"year":2020,"month":5,"date":25},
{"year":2020,"month":6,"date":1},{"year":2020,"month":6,"date":8},{"year":2020,"month":6,"date":15},{"year":2020,"month":6,"date":22},{"year":2020,"month":6,"date":29},
{"year":2020,"month":7,"date":6},{"year":2020,"month":7,"date":13},{"year":2020,"month":7,"date":20},{"year":2020,"month":7,"date":27},
{"year":2020,"month":8,"date":3},{"year":2020,"month":8,"date":10},{"year":2020,"month":8,"date":17},{"year":2020,"month":8,"date":24},{"year":2020,"month":8,"date":31},
{"year":2020,"month":9,"date":7},{"year":2020,"month":9,"date":14},{"year":2020,"month":9,"date":21},{"year":2020,"month":9,"date":28},
{"year":2020,"month":10,"date":5},{"year":2020,"month":10,"date":12},{"year":2020,"month":10,"date":19},{"year":2020,"month":10,"date":26},
{"year":2020,"month":11,"date":2},{"year":2020,"month":11,"date":9},{"year":2020,"month":11,"date":16},{"year":2020,"month":11,"date":23},{"year":2020,"month":11,"date":30},
{"year":2020,"month":12,"date":7},{"year":2020,"month":12,"date":14},{"year":2020,"month":12,"date":21},
{"year":2020,"month":3,"date":5,"hours":12},{"year":2020,"month":3,"date":12,"hours":12},{"year":2020,"month":3,"date":19,"hours":12},{"year":2020,"month":3,"date":26,"hours":12},
{"year":2020,"month":4,"date":2,"hours":12},{"year":2020,"month":4,"date":9,"hours":12},{"year":2020,"month":4,"date":16,"hours":12},{"year":2020,"month":4,"date":23,"hours":12},{"year":2020,"month":4,"date":30,"hours":12},
{"year":2020,"month":5,"date":7,"hours":12},{"year":2020,"month":5,"date":14,"hours":12},{"year":2020,"month":5,"date":21,"hours":12},{"year":2020,"month":5,"date":28,"hours":12},
{"year":2020,"month":6,"date":4,"hours":12},{"year":2020,"month":6,"date":11,"hours":12},{"year":2020,"month":6,"date":18,"hours":12},{"year":2020,"month":6,"date":25,"hours":12},
{"year":2020,"month":7,"date":2,"hours":12},{"year":2020,"month":7,"date":9,"hours":12},{"year":2020,"month":7,"date":16,"hours":12},{"year":2020,"month":7,"date":23,"hours":12},{"year":2020,"month":7,"date":30,"hours":12},
{"year":2020,"month":8,"date":6,"hours":12},{"year":2020,"month":8,"date":13,"hours":12},{"year":2020,"month":8,"date":20,"hours":12},{"year":2020,"month":8,"date":27,"hours":12},
{"year":2020,"month":9,"date":3,"hours":12},{"year":2020,"month":9,"date":10,"hours":12},{"year":2020,"month":9,"date":17,"hours":12},{"year":2020,"month":9,"date":24,"hours":12},
{"year":2020,"month":10,"date":1,"hours":12},{"year":2020,"month":10,"date":8,"hours":12},{"year":2020,"month":10,"date":15,"hours":12},{"year":2020,"month":10,"date":22,"hours":12},{"year":2020,"month":10,"date":29,"hours":12},
{"year":2020,"month":11,"date":5,"hours":12},{"year":2020,"month":11,"date":12,"hours":12},{"year":2020,"month":11,"date":19,"hours":12},{"year":2020,"month":11,"date":26,"hours":12},
{"year":2020,"month":12,"date":3,"hours":12},{"year":2020,"month":12,"date":10,"hours":12},{"year":2020,"month":12,"date":17,"hours":12},{"year":2020,"month":12,"date":24,"hours":12}
],
      "labelExpr":"hours(datum.value)==0 ? timeFormat(datum.value,'%Y-%m-%d') : ''",
      "labelAngle":-45,"labelAlign":"right","labelBaseline":"top","labelFontSize":7,"labelOverlap":false,"labelBound":false,"labelFlush":false,
      "tickOpacity":{"condition":{"test":"hours(datum.value)!=0","value":0},"value":1},
      "gridWidth":{"condition":{"test":"hours(datum.value)!=0","value":0.5},"value":1}}},
    "y":{"field":"v","type":"quantitative","stack":"zero","title":"Proportion",
     "scale":{"domain":[-0.0484,1.1223],"nice":false,"zero":false},
     "axis":{"values":[0,0.15,0.3,0.45,0.6,0.75,0.9,1.05],"tickCount":50,"format":".1f",
      "labelExpr":"abs(datum.value*10-round(datum.value*10))>0.1 ? '' : datum.label","labelFontSize":10.5,"titlePadding":4,
      "tickOpacity":{"condition":{"test":"abs(datum.value*10-round(datum.value*10))>0.1","value":0},"value":1},
      "gridWidth":{"condition":{"test":"abs(datum.value*10-round(datum.value*10))>0.1","value":0.5},"value":1}}},
    "color":{"field":"grp","type":"nominal",
     "scale":{"domain":["g4","g3","g2","g1"],"range":["#F35F5A","#6AA404","#17B2B7","#B55DFF"]},
     "legend":{"title":"Age group","legendX":95,"legendY":340,
      "labelExpr":"datum.label=='g4' ? 'Under 18' : datum.label=='g3' ? 'Between 18 to 34' : datum.label=='g2' ? 'Between 35 to 64' : 'Over 65'"}},
    "order":{"field":"grp","sort":"ascending"}
   }
  },
  {
   "data":{"name":"weekly"},
   "mark":{"type":"text","angle":315,"fontSize":6.5,"color":"#4d4d4d","align":"center","baseline":"middle"},
   "encoding":{
    "x":{"field":"w","type":"temporal","timeUnit":"yearweek","bandPosition":0.5,"title":null},
    "y":{"datum":1.056},
    "text":{"field":"cnt"}
   }
  }
 ]
}
]
}
